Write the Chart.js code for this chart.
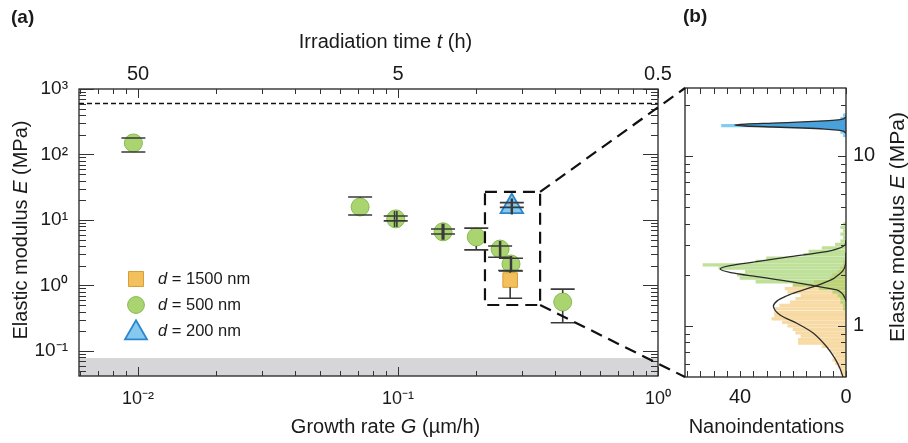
<!DOCTYPE html>
<html>
<head>
<meta charset="utf-8">
<script src="https://cdn.jsdelivr.net/npm/chart.js@4.4.1/dist/chart.umd.min.js"></script>
<style>
  html, body { margin: 0; padding: 0; background: #fff; }
  #wrap { position: relative; width: 908px; height: 443px; }
  #wrap canvas { position: absolute; left: 0; top: 0; }
</style>
</head>
<body>
<div id="wrap">
  <canvas id="chartA" width="908" height="443"></canvas>
  <canvas id="chartB" width="908" height="443"></canvas>
</div>
<script>
const FONT = '"Liberation Sans", Arial, Helvetica, sans-serif';
const INK = "#1a1a1a";
Chart.defaults.font.family = FONT;
Chart.defaults.color = INK;
Chart.defaults.animation = false;

// ---------- panel (a): E vs growth rate ----------
const growth500 = [0.0096, 0.0715, 0.098, 0.149, 0.20, 0.247, 0.272, 0.43];
const growth500Err = [0, 0, 0.001, 0.001, 0, 0.001, 0.001, 0];
const modulus500 = [150, 15.8, 10.4, 6.6, 5.5, 3.6, 2.13, 0.56];
const modulus500Lo = [109, 11.9, 9.7, 6.1, 3.5, 2.7, 1.66, 0.27];
const modulus500Hi = [179, 22.4, 11.5, 7.3, 7.5, 4.0, 2.6, 0.88];

const growth1500 = [0.27];
const growth1500Err = [0];
const modulus1500 = [1.21];
const modulus1500Lo = [0.64];
const modulus1500Hi = [1.69];

const growth200 = [0.274];
const growth200Err = [0.001];
const modulus200 = [16];
const modulus200Lo = [15.6];
const modulus200Hi = [18.4];

const upperLimitE = 600;     // dashed line
const lowerBandE = 0.078;    // grey band top
const zoomBoxG = [0.216, 0.352];
const zoomBoxE = [0.504, 26.8];

const xRangeA = [0.00593, 1];
const yRangeA = [0.0415, 1000];
const xMajorA = [0.01, 0.1, 1];
const xMajorLabelsA = ["10⁻²", "10⁻¹", "10⁰"];
const timeLabelsA = ["50", "5", "0.5"];
const xMinorA = [0.006, 0.007, 0.008, 0.009, 0.02, 0.03, 0.04, 0.05, 0.06, 0.07, 0.08, 0.09,
                 0.2, 0.3, 0.4, 0.5, 0.6, 0.7, 0.8, 0.9];
const yMajorA = [0.1, 1, 10, 100, 1000];
const yMajorLabelsA = ["10⁻¹", "10⁰", "10¹", "10²", "10³"];
const yMinorA = [0.05, 0.06, 0.07, 0.08, 0.09, 0.2, 0.3, 0.4, 0.5, 0.6, 0.7, 0.8, 0.9,
                 2, 3, 4, 5, 6, 7, 8, 9, 20, 30, 40, 50, 60, 70, 80, 90,
                 200, 300, 400, 500, 600, 700, 800, 900];

// ---------- panel (b): histograms of E ----------
const binE = [0.501, 0.525, 0.550, 0.575, 0.603, 0.631, 0.661, 0.692, 0.724, 0.759,
              0.794, 0.832, 0.871, 0.912, 0.955, 1.00, 1.05, 1.10, 1.15, 1.20,
              1.26, 1.32, 1.38, 1.45, 1.51, 1.58, 1.66, 1.74, 1.82, 1.91,
              2.00, 2.09, 2.19, 2.29, 2.40, 2.51, 2.63, 2.75, 2.88, 3.02,
              3.16, 3.31, 3.47, 3.63, 3.80, 3.98];
const count1500 = [1, 2, 2, 3, 4, 5, 4, 5, 6, 9,
                   18, 18, 17, 19, 20, 22, 24, 28, 27, 27,
                   27, 25, 21, 19, 17, 22, 23, 20, 12, 6,
                   5, 3, 2, 1, 1, 0, 0, 0, 0, 0,
                   0, 0, 0, 0, 0, 0];
const count500 = [0, 0, 0, 0, 0, 0, 0, 0, 0, 0,
                  0, 0, 0, 0, 0, 0, 0, 0, 0, 0,
                  1, 1, 2, 2, 3, 5, 10, 20, 34, 40,
                  41, 38, 48, 54, 34, 30, 16, 14, 9, 4,
                  2, 1, 2, 1, 2, 1];
const binE200 = [13.2, 13.8, 14.5, 15.1, 15.8, 16.6, 17.4];
const count200 = [1, 2, 6, 47, 10, 2, 1];

// fitted curves
const fitE1500 = [0.494, 0.564, 0.645, 0.755, 0.906, 1.037, 1.16, 1.30, 1.40, 1.50,
                  1.60, 1.70, 1.80, 1.90, 2.00, 2.10, 2.25, 2.45, 2.70];
const fitN1500 = [1.0, 2.3, 4.2, 7.3, 12.3, 18.6, 24.9, 27.4, 26.1, 22.5,
                  17.7, 12.5, 8.1, 4.7, 2.8, 1.3, 0.35, 0.05, 0];
const fitE500 = [1.40, 1.461, 1.55, 1.628, 1.726, 1.823, 1.95, 2.06, 2.163, 2.263,
                 2.389, 2.557, 2.735, 2.85, 2.99, 3.2];
const fitN500 = [0, 0.4, 1.4, 3.5, 12.4, 21, 33.7, 43.5, 47.5, 43.8,
                 33.7, 21, 7.3, 3.0, 0.4, 0];
const fitE200 = [13.6, 14.0, 14.2, 14.4, 14.6, 14.8, 15.0, 15.2, 15.4, 15.6,
                 15.85, 16.1, 16.3, 16.5, 17.0];
const fitN200 = [0, 1, 3.2, 8, 16.5, 27.7, 38, 42, 38, 27.7,
                 16.5, 8, 3.2, 1, 0];

const xRangeB = [0, 60.8];
const yRangeB = [0.501, 25.1];
const countTicksB = [0, 5, 10, 15, 20, 25, 30, 35, 40, 45, 50, 55, 60];
const countLabelValuesB = [40, 0];
const countLabelsB = ["40", "0"];
const yMajorB = [1, 10];
const yMajorLabelsB = ["1", "10"];
const yMinorB = [0.6, 0.7, 0.8, 0.9, 2, 3, 4, 5, 6, 7, 8, 9, 20];

const titleTime = [{ t: "Irradiation time " }, { t: "t", it: true }, { t: " (h)" }];
const titleGrowth = [{ t: "Growth rate " }, { t: "G", it: true }, { t: " (µm/h)" }];
const titleModulus = [{ t: "Elastic modulus " }, { t: "E", it: true }, { t: " (MPa)" }];

// ---------- helpers ----------
function pairs(xs, ys) {
  return xs.map((x, i) => ({ x: x, y: ys[i] }));
}

function drawRich(ctx, parts, x, y, size, align, rot) {
  ctx.save();
  ctx.translate(x, y);
  if (rot) ctx.rotate(rot);
  ctx.fillStyle = INK;
  ctx.textBaseline = "middle";
  ctx.textAlign = "left";
  const fonts = parts.map((p) => (p.bold ? "bold " : "") + (p.it ? "italic " : "") + size + "px " + FONT);
  const widths = parts.map((p, i) => { ctx.font = fonts[i]; return ctx.measureText(p.t).width; });
  const total = widths.reduce((a, b) => a + b, 0);
  let cx = align === "center" ? -total / 2 : 0;
  parts.forEach((p, i) => { ctx.font = fonts[i]; ctx.fillText(p.t, cx, 0); cx += widths[i]; });
  ctx.restore();
}

function drawFrame(ctx, a) {
  ctx.save();
  ctx.strokeStyle = "#222";
  ctx.lineWidth = 1.3;
  ctx.setLineDash([]);
  ctx.strokeRect(a.left, a.top, a.right - a.left, a.bottom - a.top);
  ctx.restore();
}

// ticks pointing into the plot, on all four sides
function inwardTicks(ctx, a, sx, sy, xSets, ySets) {
  ctx.save();
  ctx.strokeStyle = "#333";
  ctx.lineWidth = 1;
  ctx.beginPath();
  xSets.forEach((set) => {
    set.values.forEach((v) => {
      const px = Math.round(sx.getPixelForValue(v)) + 0.5;
      ctx.moveTo(px, a.bottom); ctx.lineTo(px, a.bottom - set.len);
      ctx.moveTo(px, a.top); ctx.lineTo(px, a.top + set.len);
    });
  });
  ySets.forEach((set) => {
    set.values.forEach((v) => {
      const py = Math.round(sy.getPixelForValue(v)) + 0.5;
      ctx.moveTo(a.left, py); ctx.lineTo(a.left + set.len, py);
      ctx.moveTo(a.right, py); ctx.lineTo(a.right - set.len, py);
    });
  });
  ctx.stroke();
  ctx.restore();
}

function marker(ctx, style, x, y, r, fill, stroke, bw) {
  ctx.save();
  ctx.fillStyle = fill;
  ctx.strokeStyle = stroke;
  ctx.lineWidth = bw;
  ctx.beginPath();
  if (style === "circle") {
    ctx.arc(x, y, r, 0, Math.PI * 2);
  } else if (style === "rect") {
    const h = r * Math.SQRT1_2;
    ctx.rect(x - h, y - h, 2 * h, 2 * h);
  } else {
    ctx.moveTo(x, y - r);
    ctx.lineTo(x + r * 0.866, y + r / 2);
    ctx.lineTo(x - r * 0.866, y + r / 2);
    ctx.closePath();
  }
  ctx.fill();
  ctx.stroke();
  ctx.restore();
}

// ---------- panel (a) plugin ----------
const panelA = {
  id: "panelA",
  beforeDatasetsDraw(chart) {
    const { ctx, chartArea: a } = chart;
    const y = chart.scales.y;
    ctx.save();
    const yb = y.getPixelForValue(lowerBandE);
    ctx.fillStyle = "#d6d6d8";
    ctx.fillRect(a.left, yb, a.right - a.left, a.bottom - yb);
    const yl = y.getPixelForValue(upperLimitE);
    ctx.strokeStyle = "#111";
    ctx.lineWidth = 1.6;
    ctx.setLineDash([5, 3]);
    ctx.beginPath();
    ctx.moveTo(a.left, yl);
    ctx.lineTo(a.right, yl);
    ctx.stroke();
    ctx.restore();
  },
  afterDatasetsDraw(chart) {
    const { ctx } = chart;
    const x = chart.scales.x, y = chart.scales.y;
    // error bars start at the marker edge, caps always drawn
    ctx.save();
    ctx.strokeStyle = "#3a3a3a";
    ctx.lineWidth = 1.6;
    chart.data.datasets.forEach((ds) => {
      ds.data.forEach((p, i) => {
        const px = x.getPixelForValue(p.x);
        const py = y.getPixelForValue(p.y);
        const yl = y.getPixelForValue(ds.errLo[i]);
        const yh = y.getPixelForValue(ds.errHi[i]);
        ctx.beginPath();
        if (yh < py - ds.edgeUp) { ctx.moveTo(px, py - ds.edgeUp); ctx.lineTo(px, yh); }
        if (yl > py + ds.edgeDown) { ctx.moveTo(px, py + ds.edgeDown); ctx.lineTo(px, yl); }
        ctx.moveTo(px - 12, yl); ctx.lineTo(px + 12, yl);
        ctx.moveTo(px - 12, yh); ctx.lineTo(px + 12, yh);
        if (ds.errX[i] > 0) {
          [p.x - ds.errX[i], p.x + ds.errX[i]].forEach((gx) => {
            const cx = x.getPixelForValue(gx);
            ctx.moveTo(cx, py - 8); ctx.lineTo(cx, py + 8);
          });
        }
        ctx.stroke();
      });
    });
    // zoom box
    const gx0 = x.getPixelForValue(zoomBoxG[0]);
    const gx1 = x.getPixelForValue(zoomBoxG[1]);
    const ey0 = y.getPixelForValue(zoomBoxE[0]);
    const ey1 = y.getPixelForValue(zoomBoxE[1]);
    ctx.strokeStyle = "#111";
    ctx.lineWidth = 2.2;
    ctx.setLineDash([12, 7]);
    ctx.strokeRect(gx0, ey1, gx1 - gx0, ey0 - ey1);
    ctx.restore();
  },
  afterDraw(chart) {
    const { ctx, chartArea: a } = chart;
    const x = chart.scales.x, y = chart.scales.y;
    drawFrame(ctx, a);
    inwardTicks(ctx, a, x, y,
      [{ values: xMajorA, len: 9 }, { values: xMinorA, len: 5 }],
      [{ values: yMajorA, len: 15 }, { values: yMinorA, len: 7 }]);

    // legend
    const rows = [279, 305, 331];
    chart.data.datasets.forEach((ds, i) => {
      const r = ds.legendRadius;
      const my = ds.pointStyle === "triangle" ? rows[i] + 2 : rows[i];
      marker(ctx, ds.pointStyle, 136, my, r, ds.backgroundColor, ds.borderColor, ds.borderWidth);
      drawRich(ctx, [{ t: ds.label.slice(0, 1), it: true }, { t: ds.label.slice(1) }], 158, rows[i], 16.5, "left");
    });

    const cx = (a.left + a.right) / 2 + 17;
    drawRich(ctx, titleTime, cx, 42, 20, "center");
    drawRich(ctx, titleGrowth, cx, 427, 20, "center");
    drawRich(ctx, titleModulus, 21, 230, 20, "center", -Math.PI / 2);
    drawRich(ctx, [{ t: "(a)", bold: true }], 11, 18, 19, "left");
  }
};

function logAxis(range, values, labels, pos, size, pad, fitSize) {
  return {
    type: "logarithmic",
    position: pos,
    min: range[0],
    max: range[1],
    grid: { display: false, drawTicks: false },
    border: { display: false },
    afterBuildTicks: (s) => { s.ticks = values.map((v) => ({ value: v })); },
    ticks: {
      autoSkip: false,
      maxRotation: 0,
      padding: pad,
      color: INK,
      font: { size: size },
      callback: (v, i) => labels[i]
    },
    afterFit: (s) => {
      if (pos === "left" || pos === "right") s.width = fitSize; else s.height = fitSize;
    }
  };
}

const chartA = new Chart(document.getElementById("chartA"), {
  type: "scatter",
  data: {
    datasets: [
      {
        label: "d = 1500 nm",
        data: pairs(growth1500, modulus1500),
        errLo: modulus1500Lo, errHi: modulus1500Hi, errX: growth1500Err,
        pointStyle: "rect", pointRadius: 10.3, legendRadius: 10.6,
        edgeUp: 7.3, edgeDown: 7.3,
        backgroundColor: "#f2c05c", borderColor: "#d99e35", borderWidth: 1
      },
      {
        label: "d = 500 nm",
        data: pairs(growth500, modulus500),
        errLo: modulus500Lo, errHi: modulus500Hi, errX: growth500Err,
        pointStyle: "circle", pointRadius: 9, legendRadius: 8.4,
        edgeUp: 9, edgeDown: 9,
        backgroundColor: "#a9d46f", borderColor: "#86bb4f", borderWidth: 1
      },
      {
        label: "d = 200 nm",
        data: pairs(growth200, modulus200),
        errLo: modulus200Lo, errHi: modulus200Hi, errX: growth200Err,
        pointStyle: "triangle", pointRadius: 13, legendRadius: 12.7,
        edgeUp: 13, edgeDown: 6.5,
        backgroundColor: "#86c9ee", borderColor: "#2a86cf", borderWidth: 1.8
      }
    ]
  },
  options: {
    responsive: false,
    animation: false,
    layout: { padding: { left: 0, right: 250, top: 0, bottom: 0 } },
    plugins: { legend: { display: false }, tooltip: { enabled: false } },
    scales: {
      x: logAxis(xRangeA, xMajorA, xMajorLabelsA, "bottom", 18, 12, 67),
      x2: logAxis(xRangeA, xMajorA, timeLabelsA, "top", 20, 3, 89),
      y: logAxis(yRangeA, yMajorA, yMajorLabelsA, "left", 19, 11, 79)
    }
  },
  plugins: [panelA]
});

// ---------- panel (b) plugin ----------
const panelB = {
  id: "panelB",
  beforeDatasetDraw(chart, args) {
    const ds = chart.data.datasets[args.index];
    if (!ds.fillToZero) return;
    const { ctx, chartArea: a } = chart;
    const pts = args.meta.data;
    const x0 = chart.scales.x.getPixelForValue(0);
    ctx.save();
    ctx.beginPath();
    ctx.rect(a.left, a.top, a.right - a.left, a.bottom - a.top);
    ctx.clip();
    ctx.beginPath();
    ctx.moveTo(x0, pts[0].y);
    pts.forEach((p) => ctx.lineTo(p.x, p.y));
    ctx.lineTo(x0, pts[pts.length - 1].y);
    ctx.closePath();
    ctx.fillStyle = ds.fillToZero;
    ctx.fill();
    ctx.restore();
  },
  afterDraw(chart) {
    const { ctx, chartArea: a } = chart;
    const x = chart.scales.x, y = chart.scales.y;
    drawFrame(ctx, a);
    inwardTicks(ctx, a, x, y,
      [{ values: countTicksB, len: 6 }],
      [{ values: yMajorB, len: 8 }, { values: yMinorB, len: 5 }]);

    // dashed connectors from the zoom box of panel (a)
    const ax = chartA.scales.x, ay = chartA.scales.y;
    const bx = ax.getPixelForValue(zoomBoxG[1]);
    const byTop = ay.getPixelForValue(zoomBoxE[1]);
    const byBot = ay.getPixelForValue(zoomBoxE[0]);
    ctx.save();
    ctx.strokeStyle = "#111";
    ctx.lineWidth = 2.2;
    ctx.setLineDash([12, 7]);
    ctx.beginPath();
    ctx.moveTo(bx, byTop); ctx.lineTo(a.left, a.top);
    ctx.moveTo(bx, byBot); ctx.lineTo(a.left, a.bottom);
    ctx.stroke();
    ctx.restore();

    drawRich(ctx, [{ t: "Nanoindentations" }], (a.left + a.right) / 2 + 1, 427, 20, "center");
    drawRich(ctx, titleModulus, 898, 227, 21, "center", -Math.PI / 2);
    drawRich(ctx, [{ t: "(b)", bold: true }], 683, 17, 19, "left");
  }
};

const barStyle = {
  indexAxis: "y",
  grouped: false,
  categoryPercentage: 1,
  barPercentage: 1,
  maxBarThickness: 2.6,
  borderWidth: 0
};

const curveStyle = {
  type: "line",
  indexAxis: "y",
  borderColor: "#2b2b2b",
  borderWidth: 1.3,
  pointRadius: 0,
  tension: 0.3,
  fill: false,
  order: 0
};

new Chart(document.getElementById("chartB"), {
  type: "bar",
  data: {
    datasets: [
      Object.assign({}, curveStyle, { label: "fit 200 nm", data: pairs(fitN200, fitE200), fillToZero: "#4aa2dc" }),
      Object.assign({}, curveStyle, { label: "fit 500 nm", data: pairs(fitN500, fitE500) }),
      Object.assign({}, curveStyle, { label: "fit 1500 nm", data: pairs(fitN1500, fitE1500) }),
      Object.assign({}, barStyle, { label: "500 nm", data: pairs(count500, binE), backgroundColor: "rgba(150,205,90,0.62)", order: 1 }),
      Object.assign({}, barStyle, { label: "1500 nm", data: pairs(count1500, binE), backgroundColor: "rgba(240,188,90,0.55)", order: 2 }),
      Object.assign({}, barStyle, { label: "200 nm", data: pairs(count200, binE200), backgroundColor: "rgba(110,196,240,0.85)", order: 3 })
    ]
  },
  options: {
    responsive: false,
    animation: false,
    indexAxis: "y",
    layout: { padding: { left: 685, top: 88, right: 0, bottom: 0 } },
    plugins: { legend: { display: false }, tooltip: { enabled: false } },
    scales: {
      x: {
        type: "linear",
        position: "bottom",
        reverse: true,
        min: xRangeB[0],
        max: xRangeB[1],
        grid: { display: false, drawTicks: false },
        border: { display: false },
        afterBuildTicks: (s) => { s.ticks = countLabelValuesB.map((v) => ({ value: v })); },
        ticks: { autoSkip: false, maxRotation: 0, padding: 8, color: INK, font: { size: 20 },
                 callback: (v, i) => countLabelsB[i] },
        afterFit: (s) => { s.height = 66; }
      },
      y: logAxis(yRangeB, yMajorB, yMajorLabelsB, "right", 20, 7, 62)
    }
  },
  plugins: [panelB]
});
</script>
</body>
</html>
